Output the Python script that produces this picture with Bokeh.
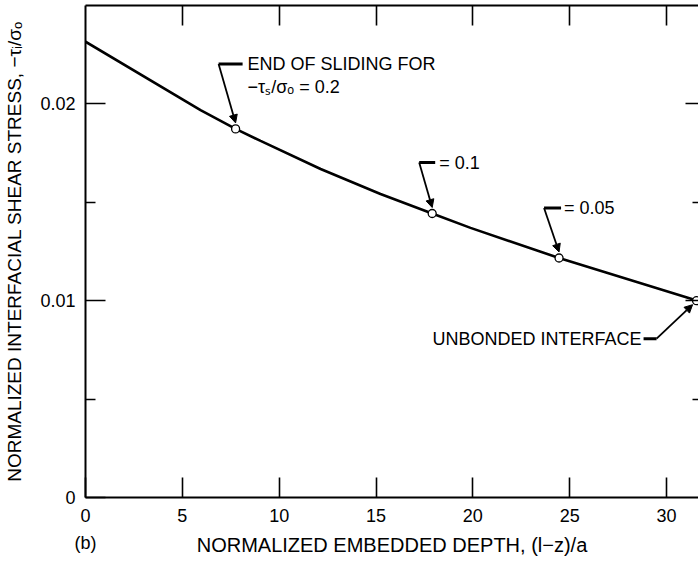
from bokeh.plotting import figure
from bokeh.models import (Range1d, LinearAxis, FixedTicker, Label, Arrow, NormalHead,
                          CustomJSTickFormatter, ColumnDataSource)
from bokeh.embed import file_html
from bokeh.resources import INLINE

# ---- data ----
depth = [0.0, 5.94, 7.75, 9.04, 12.14, 15.23, 17.9, 19.88, 24.45, 31.6]
stress = [0.02316, 0.01968, 0.01873, 0.01812, 0.01669, 0.01542, 0.01443, 0.01370, 0.01217, 0.0100]

mark_depth = [7.75, 17.9, 24.45, 31.55]
mark_stress = [0.01873, 0.01443, 0.01217, 0.0100]
mark_text = ["END OF SLIDING FOR", "= 0.1", "= 0.05", "UNBONDED INTERFACE"]
sub_text = "\u2212\u03c4\u209b/\u03c3\u2092 = 0.2"

x_ticks = [0, 5, 10, 15, 20, 25, 30]
y_ticks = [0, 0.01, 0.02]
y_minor = [0.005, 0.015]
panel_tag = "(b)"

X0, X1 = 0.0, 31.65
Y0, Y1 = 0.0, 0.025
FONT = "Liberation Sans"

W, H = 698, 561
p = figure(width=W, height=H, output_backend="svg", toolbar_location=None,
           x_range=Range1d(X0, X1), y_range=Range1d(Y0, Y1),
           min_border_left=85, min_border_right=0, min_border_top=5, min_border_bottom=64,
           x_axis_location=None, y_axis_location=None)
p.outline_line_color = None
p.xgrid.visible = False
p.ygrid.visible = False
p.background_fill_color = "white"
p.border_fill_color = "white"

# frame geometry in px, for annotation offsets
FL, FR, FT, FB = 85, 698, 5, 497
sx = (X1 - X0) / (FR - FL)
sy = (Y1 - Y0) / (FB - FT)

def at(i, dx, dy):
    """data point offset from marker i by dx, dy screen pixels (dy positive = down)"""
    return mark_depth[i] + dx * sx, mark_stress[i] - dy * sy

blank = CustomJSTickFormatter(code='return "";')

# axes
bottom = LinearAxis(ticker=FixedTicker(ticks=x_ticks))
# second, line-less axis below: carries the panel tag "(b)" and the axis title on one row
bottom2 = LinearAxis(ticker=FixedTicker(ticks=[x_ticks[0]]),
                     major_label_overrides={x_ticks[0]: panel_tag},
                     axis_label="NORMALIZED EMBEDDED DEPTH, (l\u2212z)/a")
left = LinearAxis(ticker=FixedTicker(ticks=y_ticks, minor_ticks=y_minor),
                  axis_label="NORMALIZED INTERFACIAL SHEAR STRESS, \u2212\u03c4\u1d62/\u03c3\u2092",
                  formatter=CustomJSTickFormatter(code='return tick == 0 ? "0" : tick.toFixed(2);'))
top = LinearAxis(ticker=FixedTicker(ticks=x_ticks[1:]), formatter=blank)
right = LinearAxis(ticker=FixedTicker(ticks=y_ticks[1:], minor_ticks=y_minor), formatter=blank)

for ax in (bottom, bottom2, left, top, right):
    ax.axis_line_color = "black"
    ax.axis_line_width = 2
    ax.major_tick_line_color = "black"
    ax.major_tick_line_width = 1.6
    ax.minor_tick_line_color = "black"
    ax.minor_tick_line_width = 1.6
    ax.major_tick_out = 0
    ax.minor_tick_out = 0
    ax.major_label_text_font = FONT
    ax.major_label_text_font_size = "18px"
    ax.major_label_text_color = "black"
    ax.axis_label_text_font = FONT
    ax.axis_label_text_font_size = "19px"
    ax.axis_label_text_font_style = "normal"
    ax.axis_label_text_color = "black"

bottom.major_tick_in = 20
bottom.major_label_standoff = 11
bottom2.axis_line_color = None
bottom2.major_tick_line_color = None
bottom2.major_tick_in = 0
bottom2.major_label_standoff = 8
bottom2.axis_label_standoff = -22
bottom2.axis_label_text_font_size = "20px"
left.major_tick_in = 20
left.minor_tick_in = 10
left.major_label_standoff = 10
left.axis_label_standoff = 12
top.major_tick_in = 20
top.major_label_standoff = 0
right.major_tick_in = 13
right.minor_tick_in = 6
right.major_label_standoff = 0
right.axis_line_color = None

p.add_layout(bottom, "below")
p.add_layout(bottom2, "below")
p.add_layout(left, "left")
p.add_layout(top, "above")
p.add_layout(right, "right")

# curve and markers
src = ColumnDataSource(dict(x=depth, y=stress))
p.line("x", "y", source=src, line_color="black", line_width=2.6)
msrc = ColumnDataSource(dict(x=mark_depth, y=mark_stress))
p.scatter("x", "y", source=msrc, size=8, marker="circle",
          fill_color="white", line_color="black", line_width=1.3)

# annotations: (horizontal bar start/end, arrow start/end, text position, anchor)
leaders = [
    dict(bar=((-17, -65), (7, -65)), arr=((-17, -65), (0, -6)), txt=(12, -65), align="left"),
    dict(bar=((-13, -51), (3, -51)), arr=((-13, -51), (0, -6)), txt=(7, -51), align="left"),
    dict(bar=((-15, -50), (2, -50)), arr=((-15, -50), (0, -6)), txt=(5, -50), align="left"),
    dict(bar=((-53, 38), (-40, 38)), arr=((-40, 38), (-4, 4)), txt=(-55, 38), align="right"),
]

for i, ld in enumerate(leaders):
    (b0, b1) = ld["bar"]
    x_a, y_a = at(i, *b0)
    x_b, y_b = at(i, *b1)
    p.line([x_a, x_b], [y_a, y_b], line_color="black", line_width=3)
    (a0, a1) = ld["arr"]
    xs, ys = at(i, *a0)
    xe, ye = at(i, *a1)
    p.add_layout(Arrow(x_start=xs, y_start=ys, x_end=xe, y_end=ye,
                       line_color="black", line_width=1.8,
                       end=NormalHead(size=8, fill_color="black", line_color="black", line_width=1)))
    tx, ty = at(i, *ld["txt"])
    p.add_layout(Label(x=tx, y=ty, text=mark_text[i], text_font=FONT, text_font_size="18px",
                       text_color="black", text_align=ld["align"], text_baseline="middle"))

tx, ty = at(0, 12, -42)
p.add_layout(Label(x=tx, y=ty, text=sub_text, text_font=FONT, text_font_size="18px",
                   text_color="black", text_align="left", text_baseline="middle"))

open("out.html", "w").write(file_html(p, INLINE))
